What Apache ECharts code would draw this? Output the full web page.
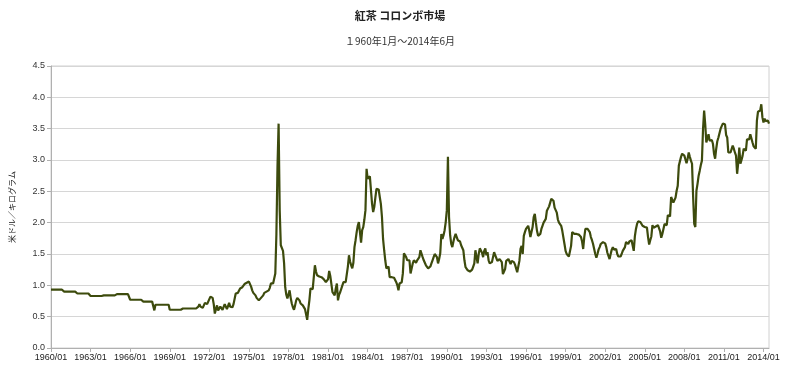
<!DOCTYPE html>
<html>
<head>
<meta charset="utf-8">
<script src="https://cdn.jsdelivr.net/npm/echarts@6/dist/echarts.min.js"></script>
<style>
html,body{margin:0;padding:0;background:#fff;}
#chart{width:800px;height:372px;}
</style>
</head>
<body>
<div id="chart"></div>
<script>
const titleText = '紅茶 コロンボ市場';
const subtitleText = '１960年1月～2014年6月';
const yAxisName = '米ドル／キログラム';
const startYear = 1960;
const endYear = 2014;
const endMonth = 6;
const yTicks = [0, 0.5, 1.0, 1.5, 2.0, 2.5, 3.0, 3.5, 4.0, 4.5];

// Monthly prices (USD/kg), one row per year
const v1960 = [0.93,0.93,0.93,0.93,0.93,0.93,0.93,0.93,0.93,0.93,0.93,0.93];
const v1961 = [0.90,0.90,0.90,0.90,0.90,0.90,0.90,0.90,0.90,0.90,0.90,0.90];
const v1962 = [0.87,0.87,0.87,0.87,0.87,0.87,0.87,0.87,0.87,0.87,0.87,0.87];
const v1963 = [0.83,0.83,0.83,0.83,0.83,0.83,0.83,0.83,0.83,0.83,0.83,0.83];
const v1964 = [0.84,0.84,0.84,0.84,0.84,0.84,0.84,0.84,0.84,0.84,0.84,0.84];
const v1965 = [0.86,0.86,0.86,0.86,0.86,0.86,0.86,0.86,0.86,0.86,0.86,0.86];
const v1966 = [0.77,0.77,0.77,0.77,0.77,0.77,0.77,0.77,0.77,0.77,0.77,0.77];
const v1967 = [0.74,0.74,0.74,0.74,0.74,0.74,0.74,0.74,0.74,0.74,0.60,0.69];
const v1968 = [0.69,0.69,0.69,0.69,0.69,0.69,0.69,0.69,0.69,0.69,0.69,0.69];
const v1969 = [0.61,0.61,0.61,0.61,0.61,0.61,0.61,0.61,0.61,0.61,0.61,0.61];
const v1970 = [0.63,0.63,0.63,0.63,0.63,0.63,0.63,0.63,0.63,0.63,0.63,0.63];
const v1971 = [0.63,0.63,0.66,0.70,0.66,0.64,0.64,0.66,0.72,0.71,0.70,0.74];
const v1972 = [0.78,0.82,0.83,0.80,0.70,0.55,0.62,0.68,0.60,0.62,0.66,0.63];
const v1973 = [0.61,0.64,0.70,0.66,0.62,0.67,0.72,0.66,0.63,0.65,0.70,0.73];
const v1974 = [0.87,0.86,0.88,0.90,0.95,0.95,0.97,1.00,1.02,1.03,1.04,1.06];
const v1975 = [1.06,1.04,0.98,0.92,0.88,0.86,0.84,0.80,0.77,0.76,0.78,0.80];
const v1976 = [0.81,0.84,0.88,0.89,0.90,0.91,0.92,0.96,1.03,1.04,1.03,1.05];
const v1977 = [1.19,1.82,2.90,3.58,2.20,1.64,1.62,1.55,1.35,0.97,0.85,0.79];
const v1978 = [0.80,0.92,0.80,0.71,0.65,0.61,0.68,0.76,0.80,0.81,0.76,0.71];
const v1979 = [0.71,0.68,0.66,0.62,0.60,0.45,0.62,0.76,0.95,0.96,0.94,0.93];
const v1980 = [1.32,1.22,1.16,1.15,1.14,1.13,1.13,1.12,1.10,1.08,1.05,1.07];
const v1981 = [1.10,1.23,1.15,1.13,0.89,0.86,0.84,0.95,1.03,0.76,0.85,0.89];
const v1982 = [0.92,1.00,1.05,1.07,1.05,1.04,1.30,1.48,1.38,1.32,1.27,1.36];
const v1983 = [1.61,1.72,1.85,1.95,2.01,2.03,1.68,1.88,1.93,2.05,2.20,2.86];
const v1984 = [2.70,2.68,2.74,2.72,2.30,2.17,2.25,2.40,2.54,2.53,2.53,2.41];
const v1985 = [2.30,2.09,1.74,1.56,1.40,1.27,1.27,1.30,1.13,1.15,1.13,1.11];
const v1986 = [1.12,1.12,1.05,1.00,0.92,1.03,1.03,1.05,1.19,1.51,1.48,1.45];
const v1987 = [1.40,1.37,1.40,1.19,1.27,1.35,1.40,1.38,1.36,1.40,1.42,1.45];
const v1988 = [1.56,1.53,1.45,1.40,1.37,1.32,1.30,1.27,1.28,1.30,1.35,1.40];
const v1989 = [1.45,1.50,1.53,1.45,1.35,1.42,1.51,1.82,1.74,1.80,1.88,2.01];
const v1990 = [2.20,3.05,2.09,1.80,1.66,1.61,1.70,1.77,1.82,1.77,1.72,1.74];
const v1991 = [1.70,1.64,1.60,1.56,1.40,1.29,1.26,1.24,1.24,1.22,1.21,1.25];
const v1992 = [1.30,1.35,1.56,1.45,1.35,1.50,1.59,1.59,1.52,1.45,1.55,1.59];
const v1993 = [1.48,1.53,1.40,1.35,1.35,1.37,1.45,1.53,1.48,1.45,1.39,1.38];
const v1994 = [1.42,1.40,1.37,1.18,1.22,1.26,1.39,1.42,1.42,1.38,1.34,1.39];
const v1995 = [1.38,1.37,1.33,1.31,1.21,1.30,1.39,1.58,1.63,1.50,1.79,1.85];
const v1996 = [1.90,1.93,1.95,1.87,1.77,1.85,1.93,2.09,2.14,2.00,1.87,1.79];
const v1997 = [1.80,1.82,1.90,1.95,2.00,2.03,2.06,2.19,2.22,2.26,2.32,2.38];
const v1998 = [2.37,2.35,2.24,2.20,2.16,2.05,2.00,2.03,1.95,1.87,1.85,1.66];
const v1999 = [1.55,1.50,1.47,1.46,1.45,1.63,1.85,1.83,1.82,1.82,1.82,1.81];
const v2000 = [1.81,1.80,1.77,1.70,1.58,1.77,1.90,1.90,1.90,1.87,1.85,1.77];
const v2001 = [1.72,1.66,1.58,1.50,1.44,1.50,1.57,1.61,1.66,1.68,1.69,1.70];
const v2002 = [1.67,1.61,1.52,1.47,1.42,1.50,1.57,1.61,1.57,1.55,1.58,1.50];
const v2003 = [1.46,1.44,1.46,1.50,1.55,1.58,1.61,1.69,1.67,1.66,1.70,1.71];
const v2004 = [1.72,1.74,1.55,1.78,1.90,1.98,2.02,2.04,2.01,1.99,1.95,1.92];
const v2005 = [1.93,1.90,1.92,1.77,1.65,1.72,1.78,1.96,1.92,1.90,1.94,1.95];
const v2006 = [1.96,1.94,1.86,1.76,1.82,1.90,1.98,1.97,1.96,2.12,2.11,2.10];
const v2007 = [2.41,2.38,2.32,2.30,2.40,2.51,2.59,2.91,2.94,3.05,3.10,3.07];
const v2008 = [3.07,3.05,2.95,3.02,3.12,3.05,2.99,2.94,2.41,1.98,1.93,2.51];
const v2009 = [2.62,2.75,2.83,2.92,2.99,3.49,3.79,3.57,3.28,3.30,3.41,3.31];
const v2010 = [3.32,3.32,3.26,3.10,3.02,3.18,3.30,3.36,3.39,3.50,3.52,3.58];
const v2011 = [3.58,3.57,3.40,3.36,3.12,3.12,3.12,3.15,3.23,3.18,3.12,3.07];
const v2012 = [2.78,2.95,3.20,2.94,3.00,3.07,3.18,3.16,3.15,3.33,3.33,3.33];
const v2013 = [3.41,3.38,3.28,3.22,3.20,3.18,3.63,3.77,3.78,3.79,3.89,3.68];
const v2014 = [3.60,3.66,3.62,3.60,3.63,3.58];

const yearRows = [v1960,v1961,v1962,v1963,v1964,v1965,v1966,v1967,v1968,v1969,
  v1970,v1971,v1972,v1973,v1974,v1975,v1976,v1977,v1978,v1979,
  v1980,v1981,v1982,v1983,v1984,v1985,v1986,v1987,v1988,v1989,
  v1990,v1991,v1992,v1993,v1994,v1995,v1996,v1997,v1998,v1999,
  v2000,v2001,v2002,v2003,v2004,v2005,v2006,v2007,v2008,v2009,
  v2010,v2011,v2012,v2013,v2014];

const categories = [];
for (let y = startYear; y <= endYear; y++) {
  const last = (y === endYear) ? endMonth : 12;
  for (let m = 1; m <= last; m++) {
    categories.push(y + '/' + (m < 10 ? '0' + m : '' + m));
  }
}
const values = [].concat.apply([], yearRows);

const chart = echarts.init(document.getElementById('chart'), null, {renderer: 'canvas'});
const font = '"Liberation Sans", Arial, "Noto Sans CJK JP", sans-serif';
chart.setOption({
  animation: false,
  backgroundColor: '#ffffff',
  title: [
    {text: titleText, left: 'center', top: 5,
     textStyle: {fontSize: 11, fontWeight: 'bold', color: '#222', fontFamily: '"Noto Sans CJK JP", sans-serif'}},
    {text: subtitleText, left: 'center', top: 31,
     textStyle: {fontSize: 10, fontWeight: 'normal', color: '#333', fontFamily: '"Noto Sans CJK JP", sans-serif'}}
  ],
  grid: {left: 51, right: 31, top: 66, bottom: 24, show: true, borderColor: '#d0d0d0', borderWidth: 1},
  xAxis: {
    type: 'category',
    data: categories,
    boundaryGap: false,
    axisLine: {lineStyle: {color: '#b0b0b0'}},
    axisTick: {show: true, interval: 35, length: 4, lineStyle: {color: '#b0b0b0'}},
    axisLabel: {interval: 35, color: '#222', fontSize: 9, fontFamily: font, margin: 5},
    splitLine: {show: false}
  },
  yAxis: {
    type: 'value',
    min: yTicks[0],
    max: yTicks[yTicks.length - 1],
    interval: 0.5,
    name: yAxisName,
    nameLocation: 'middle',
    nameGap: 35,
    nameRotate: 90,
    nameTextStyle: {fontSize: 8, color: '#111', fontFamily: '"Noto Sans CJK JP", sans-serif'},
    axisLine: {show: true, lineStyle: {color: '#b0b0b0'}},
    axisTick: {show: true, length: 4, lineStyle: {color: '#b0b0b0'}},
    axisLabel: {color: '#333', fontSize: 9, fontFamily: font, margin: 6,
      formatter: function (v) { return v.toFixed(1); }},
    splitLine: {lineStyle: {color: '#d6d6d6', width: 1}}
  },
  series: [{
    type: 'line',
    data: values,
    showSymbol: false,
    symbol: 'none',
    lineStyle: {color: '#3d4b0d', width: 2.2},
    itemStyle: {color: '#3d4b0d'}
  }]
});
</script>
</body>
</html>
